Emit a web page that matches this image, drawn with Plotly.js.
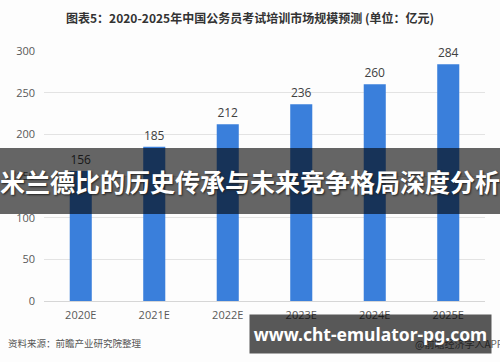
<!DOCTYPE html>
<html><head><meta charset="utf-8">
<script src="https://cdn.plot.ly/plotly-3.0.1.min.js"></script>
<style>html,body{margin:0;padding:0;background:#fff}#chart{width:500px;height:362px}</style>
</head><body><div id="chart"></div>
<script>
const categories = ['2020E','2021E','2022E','2023E','2024E','2025E'];
const marketSize = [156,185,212,236,260,284];
const yTicks = [0,50,100,150,200,250,300];
const chartTitle = '图表5：2020-2025年中国公务员考试培训市场规模预测 (单位：亿元)';
const sourceText = '资料来源：前瞻产业研究院整理';
const appText = '@前瞻经济学人APP';
const bannerText = '米兰德比的历史传承与未来竞争格局深度分析';
const watermarkText = 'www.cht-emulator-pg.com';

const L=44, T=51, W=441, H=250;
const px = x => (x-L)/W;
const py = y => (T+H-y)/H;

const trace = {
  type:'bar', x:categories, y:marketSize,
  marker:{color:'#3a7fdb'},
  text:marketSize.map(String), textposition:'outside', cliponaxis:false,
  textfont:{size:12,color:'#404040',family:'Open Sans, sans-serif'},
  hoverinfo:'none'
};
const layout = {
  width:500, height:362,
  margin:{l:L, r:500-L-W, t:T, b:362-T-H},
  paper_bgcolor:'#fdfdfd', plot_bgcolor:'#fdfdfd',
  bargap:0.7, showlegend:false,
  font:{family:'Open Sans, sans-serif'},
  xaxis:{tickfont:{size:11,color:'#595959'}, showgrid:false, showline:false, ticks:'', ticklabelstandoff:6},
  yaxis:{range:[0,300], tickvals:yTicks, tickfont:{size:11,color:'#595959'}, gridcolor:'#e3e3e3', gridwidth:1,
         zeroline:true, zerolinecolor:'#d6d6d6', showline:false, ticks:'', ticklabelstandoff:8},
  shapes:[
    {type:'rect', xref:'paper', yref:'paper', x0:-0.12, x1:1.05, y0:py(214), y1:py(148),
     fillcolor:'rgba(0,0,0,0.6)', line:{width:0}, layer:'above'}
  ],
  annotations:[
    {text:'<b>'+chartTitle+'</b>', xref:'paper', yref:'paper', x:px(250), y:py(17), xanchor:'center', yanchor:'middle',
     showarrow:false, font:{size:12, color:'#333', family:'Noto Sans CJK SC, sans-serif'}},
    {text:sourceText, xref:'paper', yref:'paper', x:px(6), y:py(343), xanchor:'left', yanchor:'middle',
     showarrow:false, font:{size:9.5, color:'#555', family:'Noto Sans CJK SC, sans-serif'}},
    {text:appText, xref:'paper', yref:'paper', x:px(413), y:py(343), xanchor:'left', yanchor:'middle',
     showarrow:false, font:{size:10, color:'#666', family:'Noto Sans CJK SC, sans-serif'}},
    {text:'<b>'+bannerText+'</b>', xref:'paper', yref:'paper', x:px(250), y:py(181), xanchor:'center', yanchor:'middle',
     showarrow:false, font:{size:25, color:'#ffffff', family:'Noto Sans CJK SC, sans-serif', shadow:'1px 1px 2px #222'}},
    {text:'<b>'+watermarkText+'</b>', xref:'paper', yref:'paper', x:px(370.5), y:py(334), xanchor:'center', yanchor:'middle',
     width:241, height:38, bgcolor:'rgba(0,0,0,0.65)', borderpad:0, showarrow:false,
     font:{size:17.5, color:'#ffffff', family:'Noto Sans, sans-serif'}}
  ]
};
Plotly.newPlot('chart',[trace],layout,{staticPlot:true,displayModeBar:false});
</script></body></html>
